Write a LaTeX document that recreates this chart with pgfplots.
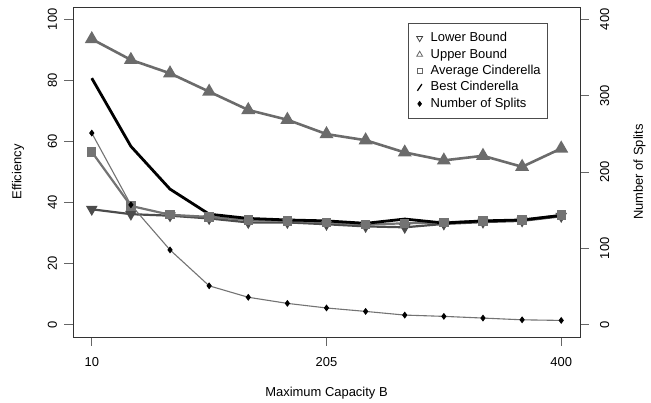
\documentclass[border=0pt]{standalone}
\usepackage{pgfplots}
\pgfplotsset{compat=1.18}
\usepackage{fontspec}
\setmainfont{Liberation Sans}
\definecolor{ubc}{gray}{0.42}
\definecolor{lbc}{gray}{0.30}
\definecolor{avc}{gray}{0.45}
\definecolor{spc}{gray}{0.45}
\definecolor{tkc}{gray}{0.40}

\begin{document}
\begin{tikzpicture}
\pgfplotsset{
  common/.style={
    scale only axis, width=507bp, height=330bp,
    xmin=-5.6, xmax=415.6,
    tick align=outside, major tick length=8.5bp,
    every tick/.style={tkc, line width=0.7bp},
    /pgf/number format/assume math mode=true,
    ticklabel style={font=\fontsize{13}{15.6}\selectfont},
    label style={font=\fontsize{13}{15.6}\selectfont},
  },
  limage/.style={legend image code/.code={\path[draw=none,fill=none] (0cm,-0.1cm) rectangle (0.45cm,0.1cm); \draw[##1] plot coordinates {(0.2cm,0cm)};}},
}
\begin{axis}[common, name=ax,
  ymin=-4, ymax=104,
  xtick={10,205,400}, ytick={0,20,40,60,80,100},
  xtick pos=bottom, ytick pos=left,
  axis line style={black!80, line width=0.8bp},
  xticklabel style={yshift=-8bp},
  yticklabel style={xshift=-4bp, rotate=90, anchor=south},
  xlabel={Maximum Capacity B}, ylabel={Efficiency},
  xlabel style={at={(axis description cs:0.5,-0.1818)}, anchor=base},
  ylabel style={at={(axis description cs:-0.1016,0.5)}, anchor=base},
]
\addplot[color=ubc, line width=2.6bp, mark=triangle*, mark size=5.5bp, mark options={solid, fill=ubc}]
  coordinates {(10,93.5) (42.5,86.7) (75,82.3) (107.5,76.3) (140,70.3) (172.5,67.1) (205,62.4) (237.5,60.4) (270,56.4) (302.5,53.8) (335,55.3) (367.5,51.7) (400,57.7)};
\addplot[color=lbc, line width=2.2bp, mark=triangle*, mark size=4.5bp, mark options={solid, fill=lbc, rotate=180}]
  coordinates {(10,37.8) (42.5,36.2) (75,35.7) (107.5,34.8) (140,33.5) (172.5,33.5) (205,32.9) (237.5,32.2) (270,31.9) (302.5,33.0) (335,33.6) (367.5,34.0) (400,35.5)};
\addplot[color=avc, line width=2.2bp, mark=square*, mark size=3.6bp, mark options={solid, fill=avc}]
  coordinates {(10,56.6) (42.5,38.9) (75,36.0) (107.5,35.3) (140,34.3) (172.5,34.0) (205,33.5) (237.5,32.8) (270,33.2) (302.5,33.5) (335,34.0) (367.5,34.3) (400,35.9)};
\addplot[color=black, line width=2.8bp, no marks]
  coordinates {(10,80.7) (42.5,58.4) (75,44.4) (107.5,36.2) (140,34.8) (172.5,34.3) (205,34.0) (237.5,33.2) (270,34.6) (302.5,33.3) (335,34.0) (367.5,34.3) (400,35.8)};
\end{axis}
\begin{axis}[common,
  ymin=-16, ymax=416,
  axis x line=none, axis y line*=right,
  axis line style={black!80, line width=0.8bp},
  ytick={0,100,200,300,400},
  yticklabel style={xshift=8bp, rotate=90, anchor=north},
  ylabel={Number of Splits},
  ylabel style={at={(axis description cs:1.124,0.5)}, anchor=base, rotate=0},
  legend style={at={(0.937,0.952)}, anchor=north east, draw=black!70, line width=0.8bp,
    font=\fontsize{13}{15.6}\selectfont, inner xsep=6bp, inner ysep=8bp,
    nodes={inner sep=1bp, text height=9.5bp, text depth=2.5bp},
    row sep=2.4bp,
    /tikz/every odd column/.append style={column sep=3bp}},
  legend cell align=left,
]
\addplot[forget plot, color=spc, line width=1.1bp, mark=diamond*, mark size=2.6bp, mark options={solid, fill=black, draw=black}]
  coordinates {(10,251) (42.5,157) (75,98) (107.5,51) (140,36) (172.5,28) (205,22) (237.5,17.5) (270,12.7) (302.5,11) (335,8.8) (367.5,6.5) (400,5.7)};
\addlegendimage{limage, only marks, mark=triangle, mark size=3.4bp, mark options={rotate=180, line width=0.8bp}, color=black!75}
\addlegendentry{Lower Bound}
\addlegendimage{limage, only marks, mark=triangle, mark size=3.4bp, mark options={line width=0.8bp}, color=black!60}
\addlegendentry{Upper Bound}
\addlegendimage{limage, only marks, mark=square, mark size=2.4bp, mark options={line width=0.8bp}, color=black!60}
\addlegendentry{Average Cinderella}
\addlegendimage{legend image code/.code={\path[draw=none,fill=none] (0cm,-0.1cm) rectangle (0.45cm,0.1cm); \draw[black, line width=1.2bp] (0.12cm,-0.12cm) -- (0.28cm,0.12cm);}}
\addlegendentry{Best Cinderella}
\addlegendimage{limage, only marks, mark=diamond*, mark size=2.4bp, color=black}
\addlegendentry{Number of Splits}
\end{axis}
\path[use as bounding box] ([shift={(-73bp,-65bp)}]ax.south west) rectangle ([shift={(71bp,7bp)}]ax.north east);
\end{tikzpicture}
\end{document}
